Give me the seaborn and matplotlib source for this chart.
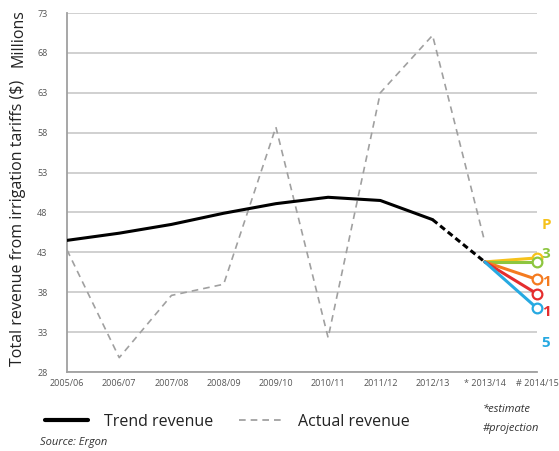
import matplotlib
matplotlib.use("Agg")
import matplotlib.pyplot as plt
import seaborn as sns
import pandas as pd
from matplotlib.lines import Line2D

periods = ["2005/06", "2006/07", "2007/08", "2008/09", "2009/10", "2010/11",
           "2011/12", "2012/13", "* 2013/14", "# 2014/15"]
trend = [44.5, 45.4, 46.5, 47.9, 49.1, 49.9, 49.5, 47.1]
trend_est = [47.1, 41.8]
actual = [43.3, 29.8, 37.6, 39.0, 58.7, 32.3, 63.0, 70.2, 44.3]
proj_names = ["P", "3", "1", "1", "5"]
proj_start = 41.8
proj_end = [42.3, 41.8, 39.6, 37.8, 36.0]
proj_colors = ["#F6C21B", "#8DC63F", "#F47B20", "#E52D2E", "#27A9E1"]
yticks = [28, 33, 38, 43, 48, 53, 58, 63, 68, 73]

sns.set_theme(style="white")
plt.rcParams["font.family"] = ["Open Sans", "DejaVu Sans"]

fig = plt.figure(figsize=(5.59, 4.51), dpi=100)
ax = fig.add_axes([67/559, 79/451, 470/559, 359/451])

x = list(range(len(periods)))
df_trend = pd.DataFrame({"x": x[:8], "y": trend})
df_est = pd.DataFrame({"x": x[7:9], "y": trend_est})
df_act = pd.DataFrame({"x": x[:9], "y": actual})

sns.lineplot(data=df_act, x="x", y="y", ax=ax, color="#a0a0a0", lw=1.2,
             linestyle=(0, (4, 3)), zorder=3)
sns.lineplot(data=df_trend, x="x", y="y", ax=ax, color="black", lw=2.2, zorder=4)
sns.lineplot(data=df_est, x="x", y="y", ax=ax, color="black", lw=2.2,
             linestyle=(0, (2, 1.2)), zorder=4)
for end, c in zip(proj_end, proj_colors):
    d = pd.DataFrame({"x": x[8:10], "y": [proj_start, end]})
    sns.lineplot(data=d, x="x", y="y", ax=ax, color=c, lw=2.2, zorder=5)
    ax.plot(x[9], end, marker="o", ms=7, mfc="white", mec=c, mew=1.6,
            clip_on=False, zorder=6)

label_y = [46.4, 42.8, 39.3, 35.5, 31.6]
for name, ly, c in zip(proj_names, label_y, proj_colors):
    ax.text(1.01, (ly - 28) / 45, name, transform=ax.transAxes, color=c,
            fontsize=11, fontweight="bold", va="center", ha="left", clip_on=False)

ax.set_xlim(0, 9)
ax.set_ylim(28, 73)
ax.set_yticks(yticks)
ax.set_yticklabels([str(t) for t in yticks])
ax.set_xticks(x)
ax.set_xticklabels(periods)
ax.tick_params(axis="both", length=0, labelsize=6.5, labelcolor="#555555")
ax.tick_params(axis="y", pad=14)
ax.tick_params(axis="x", pad=5)
ax.grid(axis="y", color="#c8c8c8", lw=1.2)
ax.grid(axis="x", visible=False)
for s in ["top", "right"]:
    ax.spines[s].set_visible(False)
for s in ["left", "bottom"]:
    ax.spines[s].set_color("#a0a0a0")
    ax.spines[s].set_linewidth(1.3)
ax.set_xlabel("")
ax.set_ylabel("")

fig.text(0.033, 228/451, "Total revenue from irrigation tariffs ($)", rotation=90,
         ha="center", va="center", fontsize=11.5, color="#222222", fontweight="medium")
fig.text(0.033, 1 - 38/451, "Millions", rotation=90,
         ha="center", va="center", fontsize=11.5, color="#222222", fontweight="medium")

handles = [Line2D([], [], color="black", lw=3),
           Line2D([], [], color="#9a9a9a", lw=1.2, linestyle=(0, (4, 3)))]
fig.legend(handles, ["Trend revenue", "Actual revenue"], loc="center left",
           bbox_to_anchor=(0.055, 1 - 422/451), ncol=2, frameon=False,
           fontsize=11.5, handlelength=2.7, columnspacing=1.6, handletextpad=1.0,
           labelcolor="#222222")
fig.text(483/559, 1 - 410/451, "*estimate", fontsize=8, style="italic",
         color="#333333", va="center")
fig.text(483/559, 1 - 428/451, "#projection", fontsize=8, style="italic",
         color="#333333", va="center")
fig.text(40/559, 1 - 442/451, "Source: Ergon", fontsize=8, style="italic",
         color="#333333", va="center")

fig.savefig("out.png", dpi=100)
